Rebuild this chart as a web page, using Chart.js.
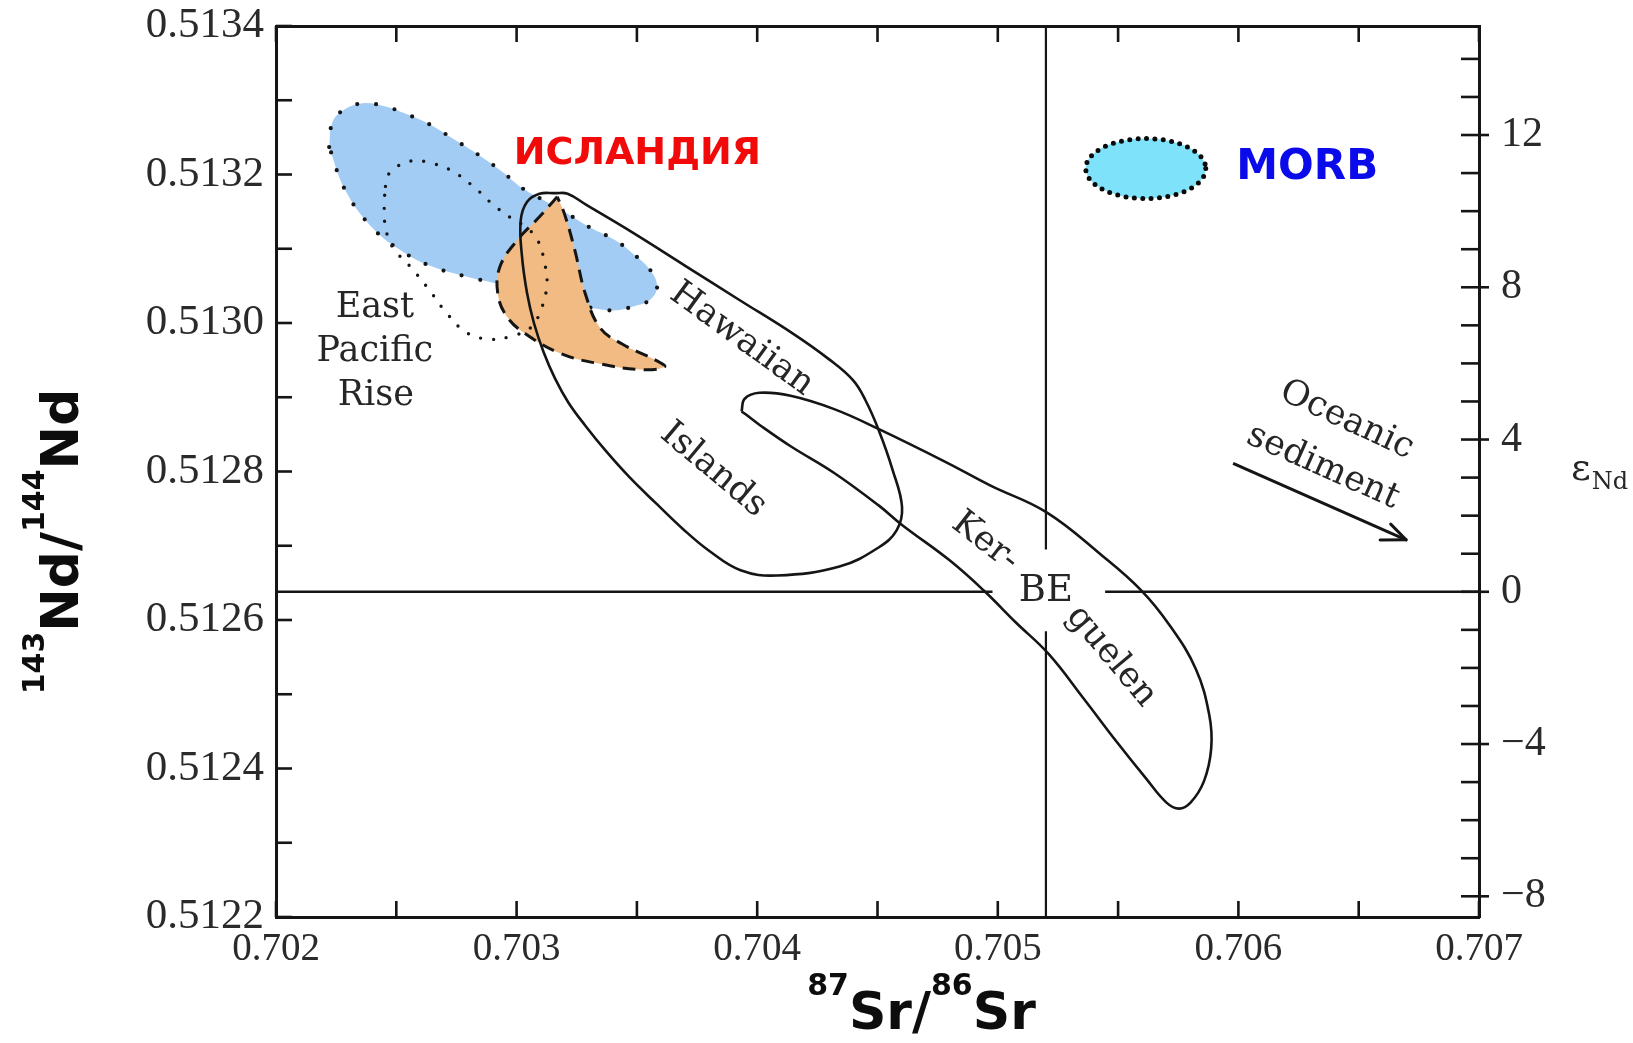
<!DOCTYPE html>
<html>
<head>
<meta charset="utf-8">
<title>87Sr/86Sr – 143Nd/144Nd</title>
<script src="https://cdn.jsdelivr.net/npm/chart.js@4.4.1/dist/chart.umd.min.js"></script>
<style>
  html, body { margin: 0; padding: 0; background: #ffffff; }
  #frame { position: relative; width: 1633px; height: 1043px; }
</style>
</head>
<body>
<div id="frame"><canvas id="chart"></canvas></div>
<script>
// ---------- axes ----------
const SR_MIN = 0.702, SR_MAX = 0.707;
const ND_MIN = 0.5122, ND_MAX = 0.5134;
const CHUR_ND = 0.512638;          // bulk earth 143Nd/144Nd (eps-Nd = 0)
const BULK_EARTH_SR = 0.7052;      // bulk earth 87Sr/86Sr line

const srTicks = [0.702, 0.7025, 0.703, 0.7035, 0.704, 0.7045, 0.705, 0.7055, 0.706, 0.7065, 0.707];
const srLabelled = [0.702, 0.703, 0.704, 0.705, 0.706, 0.707];
const ndTicks = [0.5122, 0.5123, 0.5124, 0.5125, 0.5126, 0.5127, 0.5128, 0.5129, 0.5130, 0.5131, 0.5132, 0.5133, 0.5134];
const ndLabelled = [0.5122, 0.5124, 0.5126, 0.5128, 0.5130, 0.5132, 0.5134];
const epsTicks = [-8, -7, -6, -5, -4, -3, -2, -1, 0, 1, 2, 3, 4, 5, 6, 7, 8, 9, 10, 11, 12, 13, 14];
const epsLabelled = [-8, -4, 0, 4, 8, 12];

// ---------- fields: outline vertices (87Sr/86Sr, 143Nd/144Nd) ----------
const morbSr = [0.702221, 0.702234, 0.702277, 0.702359, 0.702450, 0.702545, 0.702641, 0.702736, 0.702844, 0.702939,
                0.703026, 0.703126, 0.703212, 0.703303, 0.703407, 0.703481, 0.703554, 0.703584, 0.703554, 0.703481,
                0.703407, 0.703320, 0.703190, 0.703061, 0.702918, 0.702797, 0.702649, 0.702532, 0.702398, 0.702286];
const morbNd = [0.513237, 0.513270, 0.513286, 0.513296, 0.513292, 0.513281, 0.513267, 0.513248, 0.513226, 0.513204,
                0.513181, 0.513163, 0.513147, 0.513129, 0.513112, 0.513094, 0.513072, 0.513049, 0.513031, 0.513022,
                0.513017, 0.513020, 0.513028, 0.513039, 0.513053, 0.513062, 0.513076, 0.513095, 0.513129, 0.513180];

const eprSr = [0.702455, 0.702472, 0.702558, 0.702649, 0.702736, 0.702827, 0.702900, 0.702974, 0.703039, 0.703087,
               0.703117, 0.703126, 0.703104, 0.703056, 0.702974, 0.702900, 0.702797, 0.702710, 0.702636, 0.702558,
               0.702485, 0.702455, 0.702450];
const eprNd = [0.513184, 0.513202, 0.513218, 0.513215, 0.513204, 0.513182, 0.513160, 0.513142, 0.513129, 0.513112,
               0.513080, 0.513053, 0.513020, 0.512993, 0.512982, 0.512978, 0.512986, 0.513013, 0.513045, 0.513076,
               0.513102, 0.513129, 0.513161];

const icelandSr = [0.703169, 0.703095, 0.703004, 0.702931, 0.702922, 0.702961, 0.703035, 0.703182, 0.703346,
                   0.703524, 0.703615, 0.703584, 0.703437, 0.703346, 0.703286, 0.703242, 0.703199];
const icelandNd = [0.513170, 0.513143, 0.513112, 0.513076, 0.513039, 0.513008, 0.512986, 0.512959, 0.512945,
                   0.512937, 0.512941, 0.512949, 0.512972, 0.512994, 0.513039, 0.513098, 0.513147];

const hawaiiSr = [0.703160, 0.703212, 0.703290, 0.703481, 0.703701, 0.703926, 0.704147, 0.704299, 0.704398, 0.704450,
                  0.704506, 0.704563, 0.704602, 0.704580, 0.704506, 0.704342, 0.704082, 0.703931, 0.703797, 0.703690,
                  0.703580, 0.703470, 0.703370, 0.703285, 0.703215, 0.703160, 0.703112, 0.703072, 0.703043, 0.703022,
                  0.703017, 0.703043, 0.703095];
const hawaiiNd = [0.513175, 0.513174, 0.513159, 0.513122, 0.513077, 0.513031, 0.512986, 0.512951, 0.512923, 0.512896,
                  0.512855, 0.512802, 0.512752, 0.512721, 0.512698, 0.512672, 0.512660, 0.512667, 0.512694, 0.512723,
                  0.512757, 0.512792, 0.512828, 0.512862, 0.512893, 0.512925, 0.512961, 0.513000, 0.513041, 0.513091,
                  0.513138, 0.513163, 0.513174];

const kerguelenSr = [0.703935, 0.703948, 0.704009, 0.704139, 0.704320, 0.704506, 0.704788, 0.704970, 0.705203, 0.705429,
                     0.705593, 0.705714, 0.705823, 0.705879, 0.705887, 0.705857, 0.705801, 0.705753, 0.705701, 0.705615,
                     0.705494, 0.705355, 0.705212, 0.705074, 0.704944, 0.704801, 0.704602, 0.704506, 0.704320, 0.704139,
                     0.704013, 0.703952];
const kerguelenNd = [0.512881, 0.512898, 0.512906, 0.512902, 0.512884, 0.512857, 0.512812, 0.512781, 0.512745, 0.512688,
                     0.512641, 0.512593, 0.512534, 0.512472, 0.512427, 0.512383, 0.512354, 0.512346, 0.512354, 0.512387,
                     0.512436, 0.512495, 0.512554, 0.512597, 0.512639, 0.512680, 0.512728, 0.512754, 0.512798, 0.512834,
                     0.512862, 0.512877];

// bulk-earth reference lines (left open around the "BE" label)
const beHorizontalSr = [[SR_MIN, 0.704978], [0.705446, SR_MAX]];
const beVerticalNd = [[ND_MAX, 0.512695], [0.512585, ND_MIN]];

// oceanic sediment trend arrow
const sedimentArrowSr = [0.705978, 0.706697];
const sedimentArrowNd = [0.512811, 0.512708];

// MORB key swatch and text labels
const morbKey = { sr: 0.705615, nd: 0.513208 };
const fieldLabels = [
  { text: 'East',     sr: 0.702411, nd: 0.513021, angle: 0 },
  { text: 'Pacific',  sr: 0.702411, nd: 0.512961, angle: 0 },
  { text: 'Rise',     sr: 0.702415, nd: 0.512902, angle: 0 },
  { text: 'Hawaiian', sr: 0.703935, nd: 0.512978, angle: 36 },
  { text: 'Islands',  sr: 0.703818, nd: 0.512802, angle: 40 },
  { text: 'Ker-',     sr: 0.704948, nd: 0.512705, angle: 38 },
  { text: 'BE',       sr: BULK_EARTH_SR, nd: CHUR_ND, angle: 0 },
  { text: 'guelen',   sr: 0.705472, nd: 0.512551, angle: 50 },
  { text: 'Oceanic',  sr: 0.706450, nd: 0.512869, angle: 25 },
  { text: 'sediment', sr: 0.706351, nd: 0.512806, angle: 24 }
];
const colouredLabels = [
  { text: 'ИСЛАНДИЯ', sr: 0.703502, nd: 0.513227, color: 'rgb(240,10,10)', size: 38 },
  { text: 'MORB',     sr: 0.706286, nd: 0.513208, color: 'rgb(10,10,235)', size: 42 }
];

// ---------- helpers ----------
const toEps = nd => (nd / CHUR_ND - 1) * 1e4;
const near = (list, v) => list.some(t => Math.abs(t - v) < 1e-9);
const closedOutline = (sr, nd) => {
  const pts = sr.map((x, i) => ({ x, y: nd[i] }));
  pts.push({ x: sr[0], y: nd[0] });
  return pts;
};
const pairs = (sr, nd) => sr.map((x, i) => ({ x, y: nd[i] }));

const INK = '#151515';
const contour = { pointRadius: 0, tension: 0.4, fill: false, borderColor: INK, borderWidth: 2.6 };

const datasets = [
  { ...contour, label: 'sediment', data: pairs(sedimentArrowSr, sedimentArrowNd), tension: 0, borderWidth: 3, order: 0 },
  { ...contour, label: 'Kerguelen', data: closedOutline(kerguelenSr, kerguelenNd), order: 1 },
  { ...contour, label: 'Hawaiian Islands', data: closedOutline(hawaiiSr, hawaiiNd), order: 2 },
  { ...contour, label: 'East Pacific Rise', data: closedOutline(eprSr, eprNd), borderWidth: 3.4,
    borderDash: [0, 13], borderCapStyle: 'round', order: 3 },
  { ...contour, label: 'Iceland', data: closedOutline(icelandSr, icelandNd), fill: 'shape',
    backgroundColor: 'rgb(241,187,131)', borderWidth: 3, borderDash: [13, 8], order: 4 },
  { ...contour, label: 'MORB', data: closedOutline(morbSr, morbNd), fill: 'shape',
    backgroundColor: 'rgb(162,204,243)', borderWidth: 4.2, borderDash: [0, 19], borderCapStyle: 'round', order: 5 }
];
beHorizontalSr.forEach((seg, i) => datasets.push({ ...contour, label: 'BE-h' + i, tension: 0, borderWidth: 2.4, order: 6,
  data: pairs(seg, [CHUR_ND, CHUR_ND]) }));
beVerticalNd.forEach((seg, i) => datasets.push({ ...contour, label: 'BE-v' + i, tension: 0, borderWidth: 2.2, order: 6,
  data: pairs([BULK_EARTH_SR, BULK_EARTH_SR], seg) }));

// ---------- decorations drawn on top of the plot ----------
const decorations = {
  id: 'decorations',
  afterDatasetsDraw(chart) {
    const { ctx, chartArea: a, scales } = chart;
    const X = v => scales.x.getPixelForValue(v);
    const Y = v => scales.y.getPixelForValue(v);
    const E = v => scales.eps.getPixelForValue(v);
    const seg = (x1, y1, x2, y2) => { ctx.beginPath(); ctx.moveTo(x1, y1); ctx.lineTo(x2, y2); ctx.stroke(); };

    ctx.save();
    // inward tick marks on all four sides
    ctx.strokeStyle = INK;
    ctx.lineWidth = 2.6;
    srTicks.forEach(v => { const x = X(v); seg(x, a.bottom, x, a.bottom - 16); seg(x, a.top, x, a.top + 16); });
    ndTicks.forEach(v => { const y = Y(v); seg(a.left, y, a.left + 16, y); });
    epsTicks.forEach(v => {
      const y = E(v);
      seg(a.right - 18, y, a.right, y);
      if (near(epsLabelled, v)) seg(a.right, y, a.right + 10, y);
    });

    // sediment arrow head
    const x1 = X(sedimentArrowSr[0]), y1 = Y(sedimentArrowNd[0]);
    const x2 = X(sedimentArrowSr[1]), y2 = Y(sedimentArrowNd[1]);
    const ang = Math.atan2(y2 - y1, x2 - x1);
    ctx.lineWidth = 3;
    ctx.lineCap = 'round';
    seg(x2, y2, x2 - 26 * Math.cos(ang - 0.42), y2 - 26 * Math.sin(ang - 0.42));
    seg(x2, y2, x2 - 22 * Math.cos(ang + 0.38), y2 - 22 * Math.sin(ang + 0.38));

    // MORB key swatch
    const cx = X(morbKey.sr), cy = Y(morbKey.nd);
    ctx.beginPath();
    ctx.ellipse(cx, cy, 60, 30, 0, 0, Math.PI * 2);
    ctx.fillStyle = 'rgb(126,226,250)';
    ctx.fill();
    ctx.setLineDash([0, 8.4]);
    ctx.lineWidth = 5;
    ctx.lineCap = 'round';
    ctx.strokeStyle = '#0a0a0a';
    ctx.stroke();
    ctx.setLineDash([]);

    // field labels
    ctx.fillStyle = '#262626';
    ctx.textAlign = 'center';
    ctx.textBaseline = 'middle';
    fieldLabels.forEach(l => {
      ctx.save();
      ctx.translate(X(l.sr), Y(l.nd));
      ctx.rotate(l.angle * Math.PI / 180);
      ctx.font = (l.text === 'BE' ? '37px' : '35px') + ' "DejaVu Serif"';
      ctx.fillText(l.text, 0, 0);
      ctx.restore();
    });
    colouredLabels.forEach(l => {
      ctx.font = 'bold ' + l.size + 'px "DejaVu Sans"';
      ctx.fillStyle = l.color;
      ctx.fillText(l.text, X(l.sr), Y(l.nd));
    });
    ctx.restore();
  },
  afterDraw(chart) {
    const { ctx, chartArea: a } = chart;
    const runs = (parts) => parts.reduce((w, p) => { ctx.font = p.font; return w + ctx.measureText(p.t).width; }, 0);
    const drawRuns = (parts, x0) => {
      let x = x0;
      parts.forEach(p => { ctx.font = p.font; ctx.fillText(p.t, x, p.dy); x += ctx.measureText(p.t).width; });
    };
    const big = 'bold 52px "DejaVu Sans"', sup = 'bold 30px "DejaVu Sans"';
    ctx.save();
    ctx.fillStyle = '#0d0d0d';
    ctx.textAlign = 'left';
    ctx.textBaseline = 'alphabetic';

    // vertical title
    const yTitle = [{ t: '143', font: sup, dy: -34 }, { t: 'Nd/', font: big, dy: 0 },
                    { t: '144', font: sup, dy: -34 }, { t: 'Nd', font: big, dy: 0 }];
    ctx.save();
    ctx.translate(a.left - 198, (a.top + a.bottom) / 2 + 70);
    ctx.rotate(-Math.PI / 2);
    drawRuns(yTitle, -runs(yTitle) / 2);
    ctx.restore();

    // horizontal title
    const xTitle = [{ t: '87', font: sup, dy: -34 }, { t: 'Sr/', font: big, dy: 0 },
                    { t: '86', font: sup, dy: -34 }, { t: 'Sr', font: big, dy: 0 }];
    ctx.save();
    ctx.translate((a.left + a.right) / 2 + 44, a.bottom + 112);
    drawRuns(xTitle, -runs(xTitle) / 2);
    ctx.restore();

    // eps-Nd title on the right
    ctx.fillStyle = '#262626';
    ctx.font = '38px "DejaVu Serif"';
    const ex = a.right + 92, ey = (a.top + a.bottom) / 2 + 8;
    ctx.fillText('ε', ex, ey);
    const w = ctx.measureText('ε').width;
    ctx.font = '24px "DejaVu Serif"';
    ctx.fillText('Nd', ex + w + 1, ey + 9);
    ctx.restore();
  }
};

// ---------- chart ----------
const tickFont = size => ({ family: 'Liberation Serif', size });
const frameBorder = { display: true, color: INK, width: 3 };
const noGrid = { display: false, drawTicks: false };
// fixed axis box sizes; label overhang must not shrink the plot area
const fixBox = (w, h) => s => {
  if (w !== null) s.width = w;
  if (h !== null) s.height = h;
  s.paddingTop = 0; s.paddingBottom = 0; s.paddingLeft = 0; s.paddingRight = 0;
};

new Chart(document.getElementById('chart'), {
  type: 'line',
  data: { datasets },
  options: {
    responsive: true,
    maintainAspectRatio: false,
    animation: false,
    events: [],
    layout: { padding: 0 },
    plugins: { legend: { display: false }, tooltip: { enabled: false } },
    scales: {
      x: {
        type: 'linear', position: 'bottom', min: SR_MIN, max: SR_MAX,
        grid: noGrid, border: frameBorder,
        afterBuildTicks: s => { s.ticks = srTicks.map(value => ({ value })); },
        afterFit: fixBox(null, 126),
        ticks: { autoSkip: false, maxRotation: 0, padding: 9, color: '#2a2a2a', font: tickFont(39),
                 callback: v => near(srLabelled, v) ? v.toFixed(3) : '' }
      },
      xTop: {
        type: 'linear', position: 'top', min: SR_MIN, max: SR_MAX,
        grid: noGrid, border: frameBorder, ticks: { display: false },
        afterFit: fixBox(null, 26)
      },
      y: {
        type: 'linear', position: 'left', min: ND_MIN, max: ND_MAX,
        grid: noGrid, border: frameBorder,
        afterBuildTicks: s => { s.ticks = ndTicks.map(value => ({ value })); },
        afterFit: fixBox(276, null),
        ticks: { autoSkip: false, padding: 12, color: '#2a2a2a', font: tickFont(43),
                 callback: v => near(ndLabelled, v) ? v.toFixed(4) : '' }
      },
      eps: {
        type: 'linear', position: 'right', min: toEps(ND_MIN), max: toEps(ND_MAX),
        grid: noGrid, border: frameBorder,
        afterBuildTicks: s => { s.ticks = epsTicks.map(value => ({ value })); },
        afterFit: fixBox(154, null),
        ticks: { autoSkip: false, padding: 22, color: '#2a2a2a', font: tickFont(42),
                 callback: v => near(epsLabelled, v) ? (v < 0 ? '\u2212' + (-v) : String(v)) : '' }
      }
    }
  },
  plugins: [decorations]
});
</script>
</body>
</html>
